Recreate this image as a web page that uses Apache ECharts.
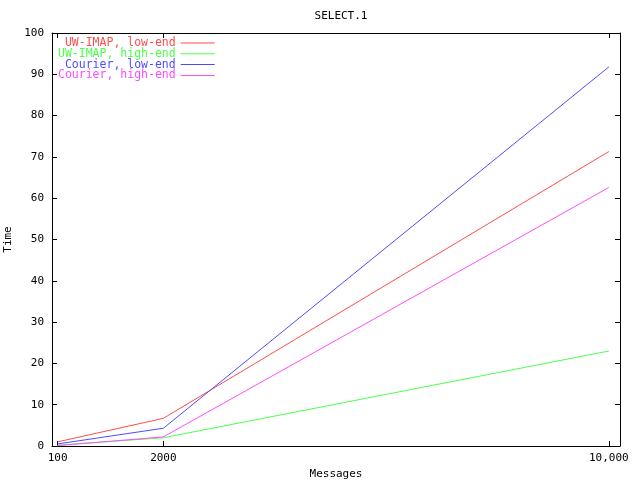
<!DOCTYPE html>
<html>
<head>
<meta charset="utf-8">
<script src="https://cdn.jsdelivr.net/npm/echarts@6/dist/echarts.min.js"></script>
<style>
  html, body { margin: 0; padding: 0; background: #fff; }
  #main { width: 640px; height: 480px; }
</style>
</head>
<body>
<div id="main"></div>
<script>
// 数据
var messages = [100, 2000, 10000];
var seriesNames = ["UW-IMAP, low-end", "UW-IMAP, high-end", "Courier, low-end", "Courier, high-end"];
var uwLow = [1.0, 6.7, 71.3];
var uwHigh = [0.2, 2.0, 23.0];
var courierLow = [0.5, 4.3, 91.8];
var courierHigh = [0.1, 2.2, 62.6];

var colors = ["#ff4d4d", "#4dff4d", "#4d4dff", "#ff4dff"];
var font = "DejaVu Sans Mono";

function pairs(vals) {
  return messages.map(function (m, i) { return [m, vals[i]]; });
}

var myChart = echarts.init(document.getElementById("main"));

var allVals = [uwLow, uwHigh, courierLow, courierHigh];
var series = allVals.map(function (vals, i) {
  return {
    name: seriesNames[i],
    type: "line",
    data: pairs(vals),
    symbol: "none",
    lineStyle: { width: 1, color: colors[i] },
    itemStyle: { color: colors[i] },
    animation: false
  };
});

var axisCommon = {
  axisLine: { show: true, onZero: false, lineStyle: { color: "#000", width: 1 } },
  axisTick: { show: true, inside: true, length: 5, lineStyle: { color: "#000" } },
  splitLine: { show: false }
};

var option = {
  backgroundColor: "#fff",
  animation: false,
  title: {
    text: "SELECT.1",
    left: 336,
    top: 6,
    textAlign: "center",
    textStyle: { fontFamily: font, fontSize: 11, fontWeight: "normal", color: "#000" }
  },
  grid: { left: 52, right: 20, top: 33, bottom: 34, outerBoundsMode: "none", containLabel: false },
  legend: {
    orient: "vertical",
    left: 58,
    top: 37,
    padding: 0,
    align: "right",
    itemGap: -1.2,
    itemWidth: 34,
    itemHeight: 1,
    icon: "rect",
    selectedMode: false,
    formatter: function (name) {
      return name.length < 17 ? " " + name : name;
    },
    textStyle: { fontFamily: font, fontSize: 11.5, lineHeight: 10.8 },
    data: seriesNames.map(function (n, i) {
      return { name: n, textStyle: { color: colors[i] }, itemStyle: { color: colors[i] } };
    })
  },
  xAxis: [
    Object.assign({}, axisCommon, {
      type: "value",
      min: 0,
      max: 10200,
      name: "Messages",
      nameLocation: "middle",
      nameGap: 22,
      nameTextStyle: { fontFamily: font, fontSize: 11, color: "#000" },
      axisTick: { show: true, inside: true, length: 5, lineStyle: { color: "#000" }, customValues: messages },
      axisLabel: {
        customValues: messages,
        fontFamily: font, fontSize: 11, color: "#000", margin: 7,
        formatter: function (v) { return v === 10000 ? "10,000" : String(v); }
      }
    }),
    Object.assign({}, axisCommon, {
      type: "value",
      position: "top",
      min: 0,
      max: 10200,
      axisTick: { show: true, inside: true, length: 5, lineStyle: { color: "#000" }, customValues: messages },
      axisLabel: { show: false }
    })
  ],
  yAxis: [
    Object.assign({}, axisCommon, {
      type: "value",
      min: 0,
      max: 100,
      interval: 10,
      name: "Time",
      nameLocation: "middle",
      nameGap: 34,
      nameTextStyle: { fontFamily: font, fontSize: 11, color: "#000" },
      axisLabel: { fontFamily: font, fontSize: 11, color: "#000", margin: 8 }
    }),
    Object.assign({}, axisCommon, {
      type: "value",
      position: "right",
      min: 0,
      max: 100,
      interval: 10,
      axisLabel: { show: false }
    })
  ],
  series: series
};

myChart.setOption(option, true);
</script>
</body>
</html>
